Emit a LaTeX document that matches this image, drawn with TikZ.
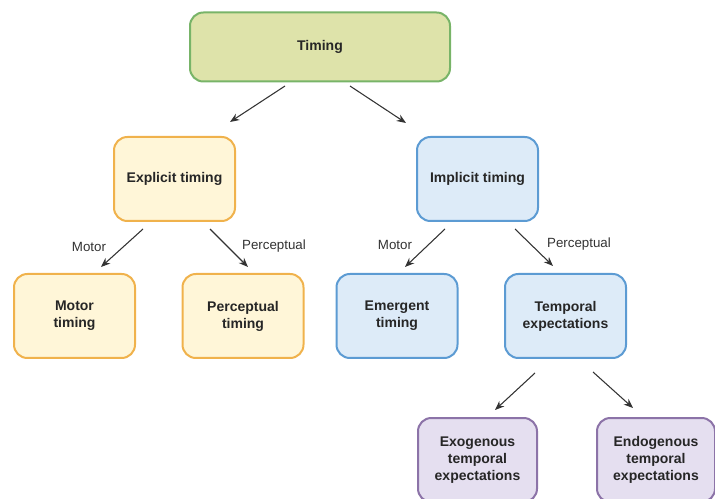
\documentclass[tikz,border=0pt]{standalone}
\usepackage{fontspec}
\setmainfont{Liberation Sans}
\usetikzlibrary{arrows.meta}
\definecolor{gfill}{HTML}{DEE3AA}
\definecolor{gdraw}{HTML}{78B468}
\definecolor{ofill}{HTML}{FFF6D8}
\definecolor{odraw}{HTML}{F0B24C}
\definecolor{bfill}{HTML}{DDEBF8}
\definecolor{bdraw}{HTML}{5C9BD3}
\definecolor{pfill}{HTML}{E5DFF0}
\definecolor{pdraw}{HTML}{8C73A8}
\definecolor{arr}{HTML}{333333}
\tikzset{
  box/.style={rounded corners=10pt, line width=1.5pt, align=center,
    font=\fontsize{10.5}{12.75}\selectfont\bfseries, text=black!85, inner sep=0pt},
  gbox/.style={box, fill=gfill, draw=gdraw},
  obox/.style={box, fill=ofill, draw=odraw},
  bbox/.style={box, fill=bfill, draw=bdraw},
  pbox/.style={box, fill=pfill, draw=pdraw},
  conn/.style={draw=arr, line width=0.8pt, -{Stealth[length=7pt,width=5.5pt]}},
  lab/.style={font=\fontsize{10}{12}\selectfont, text=black!80}
}
\begin{document}
\begin{tikzpicture}[x=0.75pt,y=-0.75pt]
\useasboundingbox (0,0) rectangle (715,499);
\node[gbox, minimum width=195pt, minimum height=51.75pt] (timing) at (320,47) {Timing};
\node[obox, minimum width=90.75pt, minimum height=63pt] (explicit) at (174.5,179) {Explicit timing};
\node[bbox, minimum width=90.75pt, minimum height=63pt] (implicit) at (477.5,179) {Implicit timing};
\node[obox, minimum width=90.75pt, minimum height=63pt] (motor) at (74.5,316) {Motor\\timing};
\node[obox, minimum width=90.75pt, minimum height=63pt] (perc) at (243,316) {Perceptual\\timing};
\node[bbox, minimum width=90.75pt, minimum height=63pt] (emerg) at (397,316) {Emergent\\timing};
\node[bbox, minimum width=90.75pt, minimum height=63pt] (temp) at (565.5,316) {Temporal\\expectations};
\node[pbox, minimum width=89.25pt, minimum height=63pt] (exo) at (477.5,460) {Exogenous\\temporal\\expectations};
\node[pbox, minimum width=88.5pt, minimum height=63pt] (endo) at (656,460) {Endogenous\\temporal\\expectations};

\coordinate (a1s) at (285,86);  \coordinate (a1e) at (230,122);
\coordinate (a2s) at (350,86);  \coordinate (a2e) at (406,123);
\coordinate (a3s) at (143,229); \coordinate (a3e) at (101,267);
\coordinate (a4s) at (210,229); \coordinate (a4e) at (248,267);
\coordinate (a5s) at (445,229); \coordinate (a5e) at (405,267);
\coordinate (a6s) at (515,229); \coordinate (a6e) at (553,266);
\coordinate (a7s) at (535,373); \coordinate (a7e) at (495,410);
\coordinate (a8s) at (593,372); \coordinate (a8e) at (633,408);
\draw[conn] (a1s) -- (a1e);
\draw[conn] (a2s) -- (a2e);
\draw[conn] (a3s) -- (a3e);
\draw[conn] (a4s) -- (a4e);
\draw[conn] (a5s) -- (a5e);
\draw[conn] (a6s) -- (a6e);
\draw[conn] (a7s) -- (a7e);
\draw[conn] (a8s) -- (a8e);
\node[lab] (l1) at (89,247) {Motor};
\node[lab] (l2) at (274,246) {Perceptual};
\node[lab] (l3) at (395,245) {Motor};
\node[lab] (l4) at (579,244) {Perceptual};
\end{tikzpicture}
\end{document}
